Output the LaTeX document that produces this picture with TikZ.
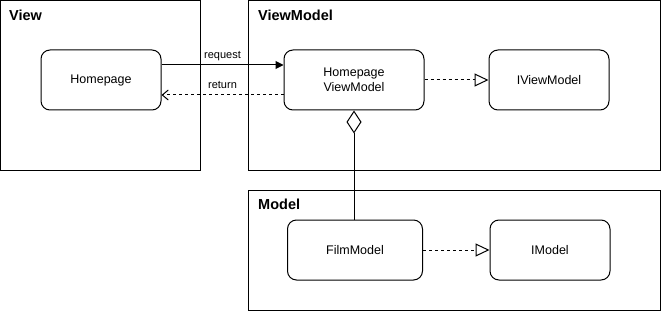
\documentclass[tikz,border=0pt]{standalone}
\usepackage{fontspec}
\setmainfont{Liberation Sans}
\usetikzlibrary{arrows.meta,positioning}

\begin{document}
\begin{tikzpicture}[x=1pt,y=1pt,
    layer/.style={draw, line width=1pt},
    cls/.style={draw, line width=1pt, rounded corners=9pt, minimum height=60pt,
      inner sep=0pt, align=center, font=\fontsize{12.5}{15}\selectfont},
    title/.style={anchor=base west, inner sep=0pt, font=\fontsize{14.5}{17}\selectfont\bfseries},
    lbl/.style={inner sep=0pt, text depth=0pt, font=\fontsize{11}{13}\selectfont},
    realize/.style={line width=1pt, dash pattern=on 3pt off 3pt,
      -{Triangle[open, length=14pt, width=13pt, fill=white]}},
  ]
  \useasboundingbox (0,0) rectangle (661,311);
  % View layer
  \draw[layer] (0.5,140.5) rectangle (200.5,310.5);
  \node[title] (tview) at (9,290) {View};
  \node[cls, minimum width=120pt] (home) at (101,231) {Homepage};
  % ViewModel layer
  \draw[layer] (248.5,140.5) rectangle (660.5,310.5);
  \node[title] (tvm) at (258,290) {ViewModel};
  \node[cls, minimum width=140pt] (hvm) at (354,231) {Homepage\\ViewModel};
  \node[cls, minimum width=120pt] (ivm) at (549,231) {IViewModel};
  % Model layer
  \draw[layer] (248.5,0.5) rectangle (660.5,120.5);
  \node[title] (tmodel) at (258,102) {Model};
  \node[cls, minimum width=135pt] (film) at (355,61) {FilmModel};
  \node[cls, minimum width=120pt] (imodel) at (550,61) {IModel};

  % calls between view and viewmodel
  \draw[line width=1pt, -{Triangle[length=8pt, width=8pt]}]
    ([yshift=15pt]home.east) -- ([yshift=15pt]hvm.west)
    node[lbl, midway, above=6pt] (lreq) {request};
  \draw[line width=1pt, dash pattern=on 3pt off 3pt, -{Straight Barb[length=6pt, width=10pt]}]
    ([yshift=-15pt]hvm.west) -- ([yshift=-15pt]home.east)
    node[lbl, midway, above=6pt] (lret) {return};
  % interfaces
  \draw[realize] (hvm) -- (ivm);
  \draw[realize] (film) -- (imodel);
  % aggregation
  \draw[line width=1pt, {Diamond[open, length=23pt, width=15pt, fill=white]}-]
    (hvm.south) -- (hvm.south |- film.north);
\end{tikzpicture}
\end{document}
